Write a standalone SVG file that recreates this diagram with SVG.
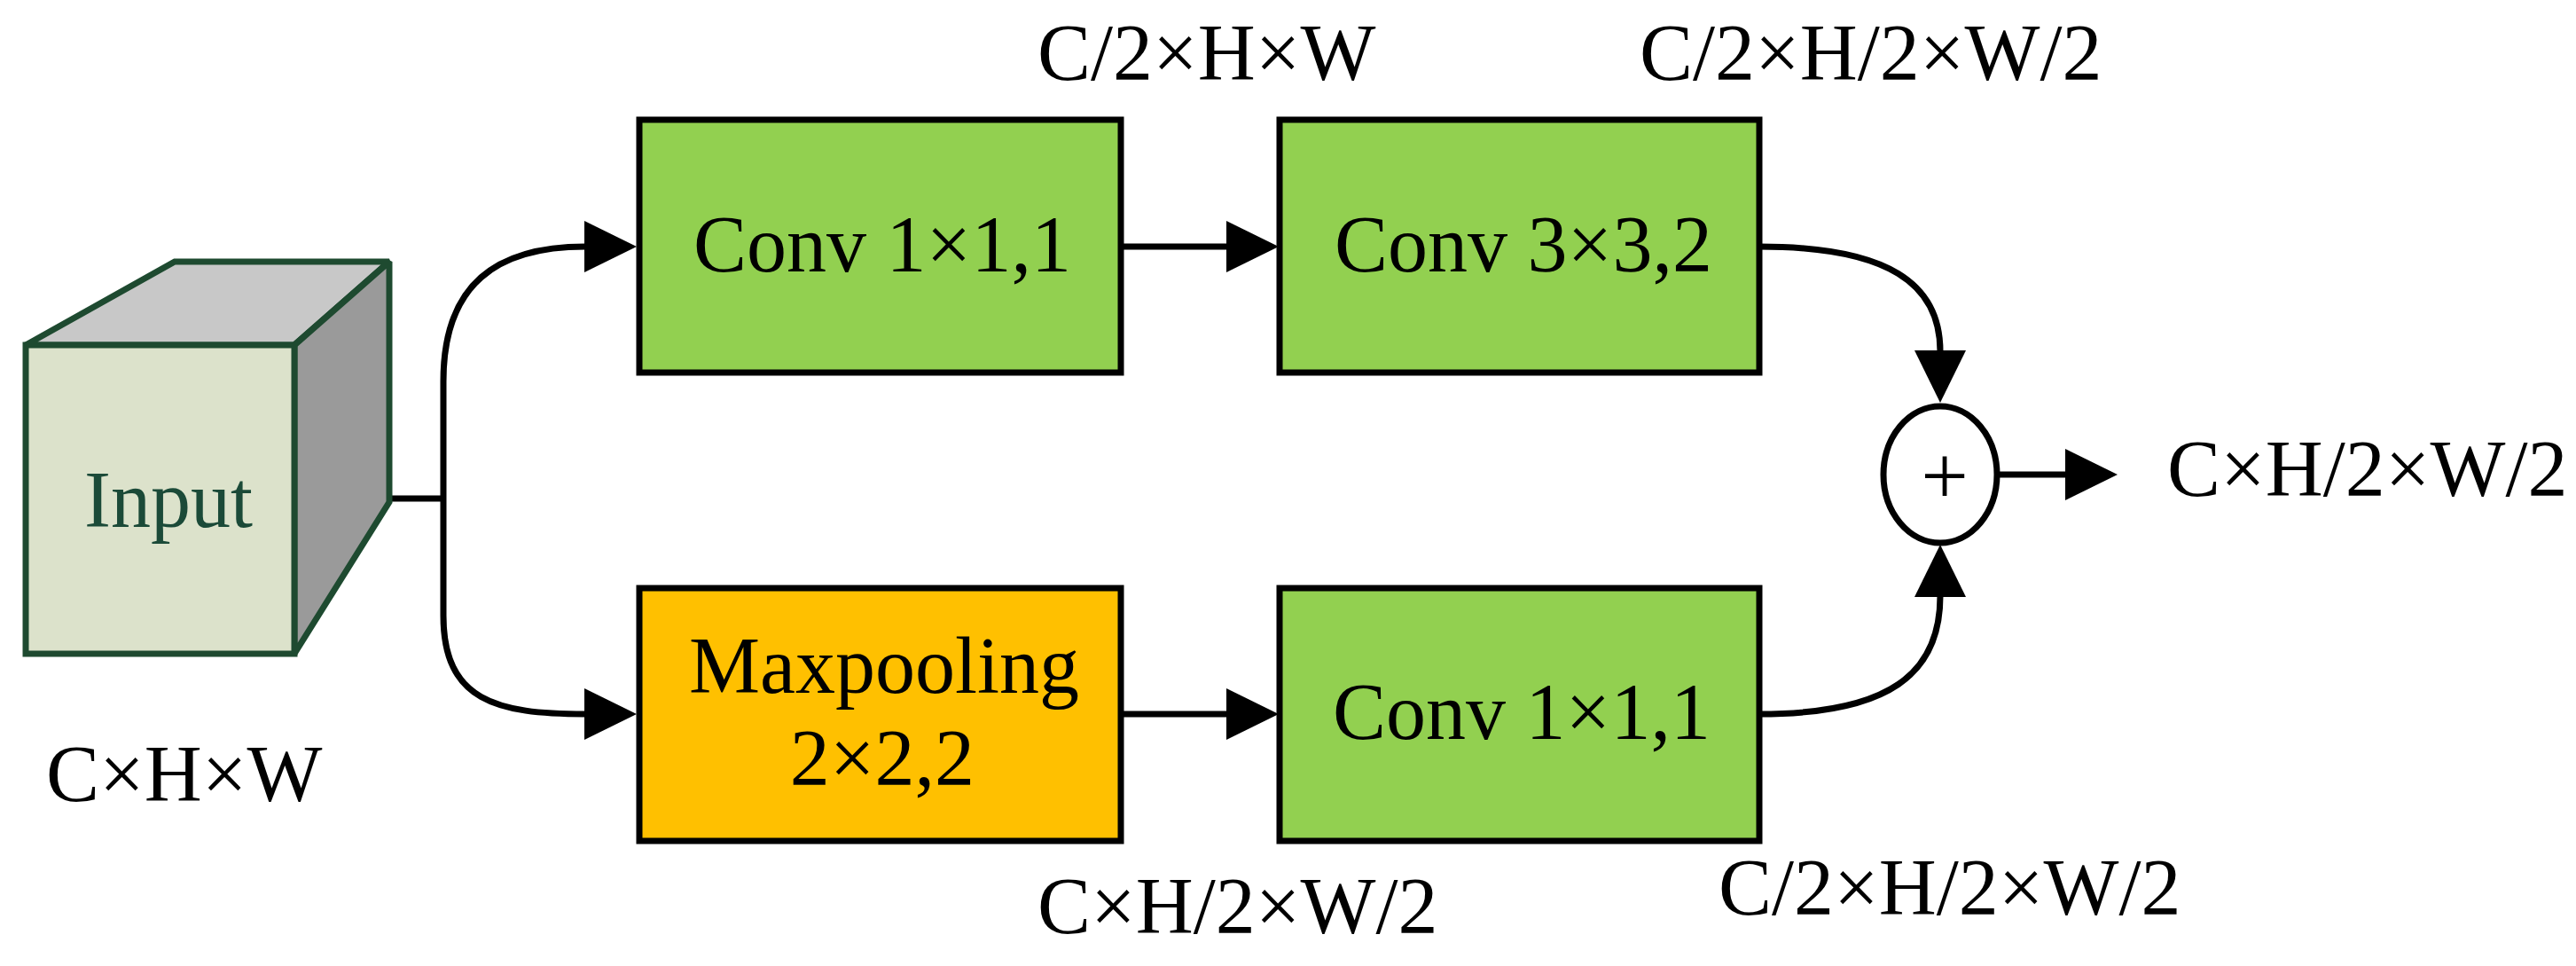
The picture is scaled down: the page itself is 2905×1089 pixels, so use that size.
<svg xmlns="http://www.w3.org/2000/svg" width="2905" height="1089" viewBox="0 0 2905 1089">
<style>
.t{font-family:"Liberation Serif","Times New Roman",serif;font-size:90px;fill:#000}
.box{stroke:#000;stroke-width:7}
.g{fill:#92d050}
.o{fill:#ffc000}
.c{fill:none;stroke:#000;stroke-width:7}
.cube{stroke:#1e4a30;stroke-width:7;stroke-linejoin:miter;stroke-miterlimit:1.5}
</style>
<defs>
<marker id="ah" markerUnits="userSpaceOnUse" viewBox="0 0 60 58" markerWidth="60" markerHeight="58" refX="1" refY="29" orient="auto">
<path d="M0,0 L59,29 L0,58 Z" fill="#000"/>
</marker>
</defs>
<rect width="2905" height="1089" fill="#fff"/>
<g id="connectors">
<path class="c" d="M439,562 H500"/>
<path class="c" d="M500,562 V430 C500,320 560,278 660,278" marker-end="url(#ah)"/>
<path class="c" d="M500,562 V694 C500,790 560,805 660,805" marker-end="url(#ah)"/>
<path class="c" d="M1264,278 H1384" marker-end="url(#ah)"/>
<path class="c" d="M1264,805 H1384" marker-end="url(#ah)"/>
<path class="c" d="M1984,278 C2130,278 2188,320 2188,396" marker-end="url(#ah)"/>
<path class="c" d="M1984,805 C2130,805 2188,760 2188,672" marker-end="url(#ah)"/>
<path class="c" d="M2252,535 H2330" marker-end="url(#ah)"/>
</g>
<g id="input">
<polygon class="cube" fill="#c8c8c8" points="29,389 197,295 439,295 332,389"/>
<polygon class="cube" fill="#9a9a9a" points="332,389 439,295 439,566 332,737"/>
<rect class="cube" fill="#dce2cb" x="29" y="389" width="303" height="348"/>
<text class="t" x="190" y="594" text-anchor="middle" style="fill:#1b4a38">Input</text>
</g>
<g id="conv1">
<rect class="box g" x="721" y="135" width="543" height="285"/>
<text class="t" x="995" y="306" text-anchor="middle">Conv 1×1,1</text>
</g>
<g id="conv3">
<rect class="box g" x="1443" y="135" width="541" height="285"/>
<text class="t" x="1718" y="306" text-anchor="middle">Conv 3×3,2</text>
</g>
<g id="maxpool">
<rect class="box o" x="721" y="663" width="543" height="285"/>
<text class="t" x="997" y="781" text-anchor="middle">Maxpooling</text>
<text class="t" x="995" y="885" text-anchor="middle">2×2,2</text>
</g>
<g id="conv1b">
<rect class="box g" x="1443" y="663" width="541" height="285"/>
<text class="t" x="1716" y="833" text-anchor="middle">Conv 1×1,1</text>
</g>
<g id="add">
<ellipse cx="2188" cy="535" rx="64" ry="77" fill="#fff" stroke="#000" stroke-width="7"/>
<text class="t" x="2193" y="568" text-anchor="middle" style="font-size:95px">+</text>
</g>
<g id="labels">
<text class="t" x="52" y="903">C×H×W</text>
<text class="t" x="1170" y="90">C/2×H×W</text>
<text class="t" x="1849" y="90">C/2×H/2×W/2</text>
<text class="t" x="1170" y="1052">C×H/2×W/2</text>
<text class="t" x="1938" y="1031">C/2×H/2×W/2</text>
<text class="t" x="2444" y="559">C×H/2×W/2</text>
</g>
</svg>
